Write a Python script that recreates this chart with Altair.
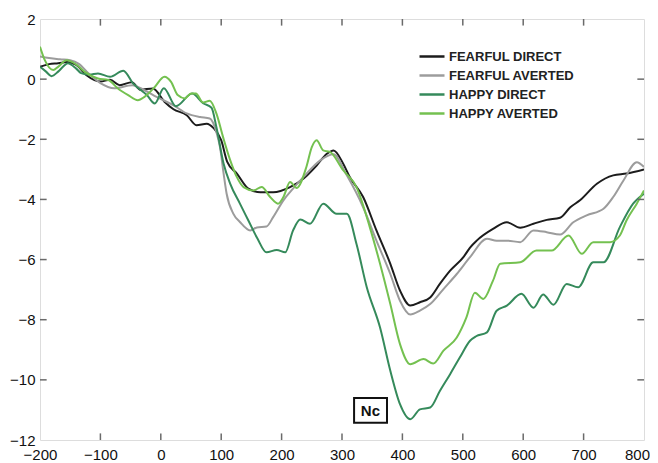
import altair as alt
import pandas as pd

# ---------------- data ----------------
series_names = ["FEARFUL DIRECT", "FEARFUL AVERTED", "HAPPY DIRECT", "HAPPY AVERTED"]
series_colors = ["#1c1c1c", "#9c9c9c", "#358a5b", "#74c150"]

fd_x = [-200, -185, -170, -155, -140, -123, -100, -84, -68, -48, -34, -13, 6, 21, 43, 59, 76, 87,
        100, 110, 126, 145, 165, 186, 214, 236, 258, 275, 286, 302, 313, 335, 357, 380, 396, 413,
        429, 446, 462, 479, 501, 512, 523, 550, 573, 595, 617, 639, 661, 678, 694, 722, 749, 771, 800]
fd_y = [0.41, 0.5, 0.53, 0.57, 0.47, 0.13, -0.08, -0.02, -0.2, -0.1, -0.35, -0.31, -0.75, -1.0,
        -1.2, -1.53, -1.48, -1.62, -2.03, -2.75, -3.14, -3.64, -3.76, -3.76, -3.59, -3.31, -2.87,
        -2.48, -2.37, -2.81, -3.26, -3.92, -5.03, -6.14, -7.03, -7.53, -7.42, -7.26, -6.81, -6.37,
        -5.92, -5.6, -5.37, -4.98, -4.76, -4.94, -4.81, -4.68, -4.61, -4.26, -4.03, -3.48, -3.2,
        -3.14, -3.0]

fa_x = [-200, -185, -167, -150, -135, -120, -100, -77, -47, -27, -7, 21, 43, 65, 81, 92, 98, 104,
        109, 120, 131, 148, 159, 175, 186, 203, 219, 236, 264, 286, 308, 335, 357, 380, 396, 413,
        429, 446, 468, 490, 512, 540, 556, 573, 595, 617, 639, 661, 683, 705, 733, 749, 766, 788, 800]
fa_y = [0.75, 0.7, 0.66, 0.63, 0.5, 0.2, -0.13, -0.3, -0.2, -0.37, -0.59, -0.87, -1.14, -1.26,
        -1.31, -1.76, -2.26, -3.14, -3.81, -4.47, -4.75, -5.03, -4.93, -4.9, -4.59, -4.03, -3.64,
        -3.26, -2.7, -2.5, -3.2, -4.26, -5.37, -6.48, -7.37, -7.83, -7.7, -7.48, -6.98, -6.48,
        -5.92, -5.31, -5.37, -5.37, -5.42, -5.03, -5.09, -5.17, -4.76, -4.53, -4.31, -3.92, -3.37,
        -2.76, -2.92]

hd_x = [-200, -190, -181, -170, -162, -154, -140, -132, -118, -104, -84, -62, -46, -23, -10, 5,
        25, 52, 70, 84, 92, 104, 115, 131, 145, 160, 175, 192, 206, 219, 231, 247, 269, 291, 308,
        324, 341, 363, 380, 396, 413, 429, 446, 462, 479, 495, 512, 522, 540, 556, 573, 597, 617,
        633, 650, 672, 691, 716, 733, 760, 782, 800]
hd_y = [0.41, 0.25, 0.1, 0.25, 0.41, 0.53, 0.35, 0.2, 0.15, 0.19, 0.08, 0.28, -0.14, -0.53,
        -0.81, -0.3, -0.9, -0.48, -0.8, -0.95, -1.59, -2.81, -3.48, -4.14, -4.7, -5.3, -5.76,
        -5.68, -5.76, -5.03, -4.67, -4.81, -4.14, -4.48, -4.48, -5.48, -6.92, -8.26, -9.7, -10.81,
        -11.31, -10.98, -10.92, -10.37, -9.81, -9.26, -8.7, -8.55, -8.42, -7.7, -7.53, -7.14,
        -7.6, -7.16, -7.5, -6.81, -6.92, -6.09, -6.09, -4.92, -4.14, -3.81]

ha_x = [-200, -192, -178, -170, -156, -148, -139, -126, -104, -87, -71, -54, -38, -27, -10, 6, 17,
        28, 40, 50, 58, 70, 81, 92, 103, 115, 126, 137, 153, 167, 181, 194, 203, 214, 225, 241,
        250, 258, 269, 280, 302, 324, 346, 363, 380, 396, 413, 435, 451, 468, 490, 506, 520, 534,
        550, 562, 595, 622, 647, 675, 697, 716, 744, 760, 771, 788, 800]
ha_y = [1.08, 0.63, 0.3, 0.41, 0.63, 0.58, 0.47, 0.24, 0.02, -0.03, -0.31, -0.53, -0.7, -0.59,
        -0.26, 0.08, -0.09, -0.53, -0.64, -0.48, -0.48, -0.78, -0.72, -1.14, -1.92, -2.7, -3.26,
        -3.59, -3.7, -3.59, -3.92, -4.14, -3.92, -3.42, -3.62, -2.92, -2.26, -2.03, -2.37, -2.42,
        -3.03, -3.59, -4.92, -6.14, -7.48, -8.81, -9.48, -9.31, -9.46, -9.03, -8.59, -7.92, -7.1,
        -7.31, -6.7, -6.14, -6.09, -5.7, -5.7, -5.2, -5.81, -5.42, -5.42, -5.2, -4.7, -4.14, -3.7]

x_ticks = [-200, -100, 0, 100, 200, 300, 400, 500, 600, 700, 800]
y_ticks = [-12, -10, -8, -6, -4, -2, 0, 2]
x_domain = [-200, 800]
y_domain = [-12, 2]

annot_text = "Nc"
annot_pos = (347, -11.02)
annot_box = (320, 374.5, -10.6, -11.43)

# ---------------- build tables ----------------
rows = []
for name, xs_, ys_ in zip(series_names, [fd_x, fa_x, hd_x, ha_x], [fd_y, fa_y, hd_y, ha_y]):
    for a, b in zip(xs_, ys_):
        rows.append({"series": name, "t": a, "v": b})
df = pd.DataFrame(rows)

# inward tick marks on all four sides of the frame
xt = pd.DataFrame([{"t": t, "v": e, "dir": (-1 if e == y_domain[1] else 1)}
                   for t in x_ticks[1:-1] for e in y_domain])
yt = pd.DataFrame([{"t": e, "v": v, "dir": (-1 if e == x_domain[1] else 1)}
                   for v in y_ticks[1:-1] for e in x_domain])
ann = pd.DataFrame([{"t": annot_pos[0], "v": annot_pos[1], "label": annot_text,
                     "t0": annot_box[0], "t1": annot_box[1], "v0": annot_box[2], "v1": annot_box[3]}])

FONT = "Liberation Sans"
AX = "#6a6a6a"

xs = alt.Scale(domain=x_domain, nice=False, zero=False)
ys = alt.Scale(domain=y_domain, nice=False, zero=False)

x_axis = alt.Axis(values=x_ticks, ticks=False, domain=False, grid=False, title=None,
                  labelFlush=False, labelOverlap=False,
                  labelOffset={"condition": {"test": "datum.value == 800", "value": -7}, "value": 0},
                  labelFont=FONT, labelFontSize=15, labelColor="#111", labelPadding=7)
y_axis = alt.Axis(values=y_ticks, ticks=False, domain=False, grid=False, title=None,
                  labelFlush=False, labelOverlap=False,
                  labelFont=FONT, labelFontSize=15, labelColor="#111", labelPadding=5)

lines = alt.Chart(df).mark_line(interpolate="monotone", strokeWidth=2, clip=True).encode(
    x=alt.X("t:Q", scale=xs, axis=x_axis),
    y=alt.Y("v:Q", scale=ys, axis=y_axis),
    color=alt.Color("series:N",
                    scale=alt.Scale(domain=series_names, range=series_colors),
                    sort=series_names,
                    legend=alt.Legend(orient="none", legendX=378, legendY=30, title=None,
                                      symbolType="stroke", symbolSize=625, symbolStrokeWidth=2.5,
                                      clipHeight=15,
                                      labelFont=FONT, labelFontSize=13, labelFontWeight="bold",
                                      labelColor="#222", rowPadding=4, labelOffset=3, padding=0)),
    order=alt.Order("t:Q"),
)

xticks = alt.Chart(xt).transform_calculate(
    v2="datum.v + datum.dir * 0.22"
).mark_rule(strokeWidth=1.5, color=AX).encode(
    x=alt.X("t:Q", scale=xs, axis=x_axis),
    y=alt.Y("v:Q", scale=ys, axis=y_axis),
    y2="v2:Q",
)
yticks = alt.Chart(yt).transform_calculate(
    t2="datum.t + datum.dir * 11"
).mark_rule(strokeWidth=1.5, color=AX).encode(
    x=alt.X("t:Q", scale=xs, axis=x_axis),
    x2="t2:Q",
    y=alt.Y("v:Q", scale=ys, axis=y_axis),
)

box = alt.Chart(ann).mark_rect(fill="white", stroke="#111", strokeWidth=2).encode(
    x=alt.X("t0:Q", scale=xs, axis=x_axis), x2="t1:Q",
    y=alt.Y("v0:Q", scale=ys, axis=y_axis), y2="v1:Q",
)
txt = alt.Chart(ann).mark_text(font=FONT, fontSize=15, fontWeight="bold", color="#111").encode(
    x=alt.X("t:Q", scale=xs, axis=x_axis),
    y=alt.Y("v:Q", scale=ys, axis=y_axis),
    text="label:N",
)

chart = alt.layer(lines, xticks, yticks, box, txt).properties(
    width=604, height=421,
    autosize=alt.AutoSizeParams(type="none"),
    padding={"left": 32, "top": 11, "right": 6, "bottom": 22},
).configure_view(stroke=AX, strokeWidth=1.5).configure(background="white")

chart.save("out.html", embed_options={"renderer": "svg", "actions": False})
